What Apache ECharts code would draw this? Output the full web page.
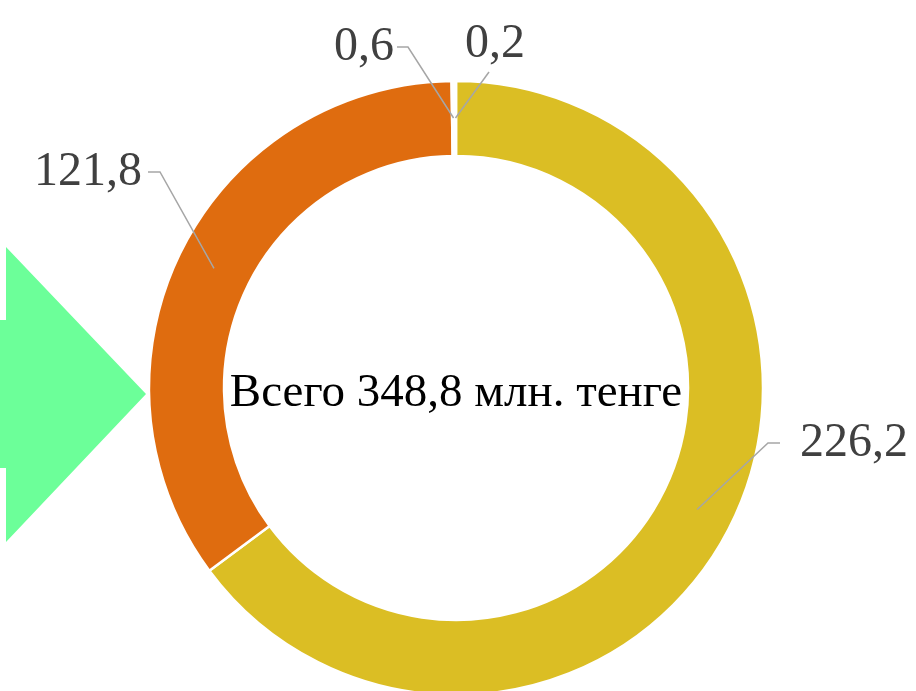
<!DOCTYPE html>
<html>
<head>
<meta charset="utf-8">
<script src="https://cdn.jsdelivr.net/npm/echarts@6/dist/echarts.min.js"></script>
<style>
html,body{margin:0;padding:0;background:#fff;}
#chart{width:916px;height:691px;}
</style>
</head>
<body>
<div id="chart"></div>
<script>
// Data
const categories = ['Категория 1', 'Категория 2', 'Категория 3', 'Категория 4'];
const values = [226.2, 121.8, 0.6, 0.2];
const totalLabel = 'Всего 348,8 млн. тенге';

// Styles / layout (not data)
const sliceColors = ['#DBBE24', '#DF6C0F', '#FFFFFF', '#FFFFFF'];
const CX = 456, CY = 388, R_IN = 232, R_OUT = 307, R_LINE = 270;
// label placement: [x, y, align, elbowX, elbowY, endX, endY]
const labelPlace = [
  [800, 443, 'left', 768, 443, 780, 443],
  [142, 172, 'right', 160, 172, 148, 172],
  [394, 47, 'right', 408, 47, 397, 47],
  [495, 44, 'center', 489, 72, 489, 72]
];

const chart = echarts.init(document.getElementById('chart'));
const fmt = v => String(v).replace('.', ',');
const pieData = categories.map((c, i) => ({ name: c, value: values[i], itemStyle: { color: sliceColors[i] } }));

chart.setOption({
  animation: false,
  backgroundColor: '#ffffff',
  graphic: [
    {
      type: 'polygon',
      shape: { points: [[0,320],[6,320],[6,247],[146,394],[6,542],[6,468],[0,468]] },
      style: { fill: '#6CFF99' },
      z: 1
    },
    {
      type: 'text',
      x: CX, y: CY + 6,
      style: {
        text: totalLabel,
        font: '47px "Liberation Serif", "Times New Roman", serif',
        fill: '#000000',
        align: 'center',
        verticalAlign: 'middle'
      },
      z: 10
    }
  ],
  series: [
    {
      type: 'pie',
      z: 2,
      center: [CX, CY],
      radius: [R_IN, R_OUT],
      startAngle: 90,
      clockwise: true,
      silent: true,
      itemStyle: { borderColor: '#ffffff', borderWidth: 2.5 },
      data: pieData,
      label: { show: false },
      labelLine: { show: false }
    },
    {
      type: 'pie',
      z: 5,
      center: [CX, CY],
      radius: [R_IN, R_OUT],
      startAngle: 90,
      clockwise: true,
      avoidLabelOverlap: false,
      silent: true,
      itemStyle: { color: 'rgba(0,0,0,0)', borderWidth: 0 },
      data: values.map((v, i) => ({ name: categories[i], value: v })),
      label: {
        show: true,
        position: 'outside',
        formatter: p => fmt(p.value),
        fontFamily: '"Liberation Serif", "Times New Roman", serif',
        fontSize: 48,
        color: '#404040'
      },
      labelLine: {
        show: true,
        length: 20,
        length2: 10,
        lineStyle: { color: '#A6A6A6', width: 1.5 }
      },
      labelLayout: function (params) {
        const lp = labelPlace[params.dataIndex];
        const p0 = params.labelLinePoints ? params.labelLinePoints[0] : [CX, CY - R_OUT];
        const k = R_LINE / Math.hypot(p0[0] - CX, p0[1] - CY);
        const start = [CX + (p0[0] - CX) * k, CY + (p0[1] - CY) * k];
        return {
          x: lp[0], y: lp[1], align: lp[2], verticalAlign: 'middle',
          labelLinePoints: [start, [lp[3], lp[4]], [lp[5], lp[6]]]
        };
      }
    }
  ]
});
</script>
</body>
</html>
